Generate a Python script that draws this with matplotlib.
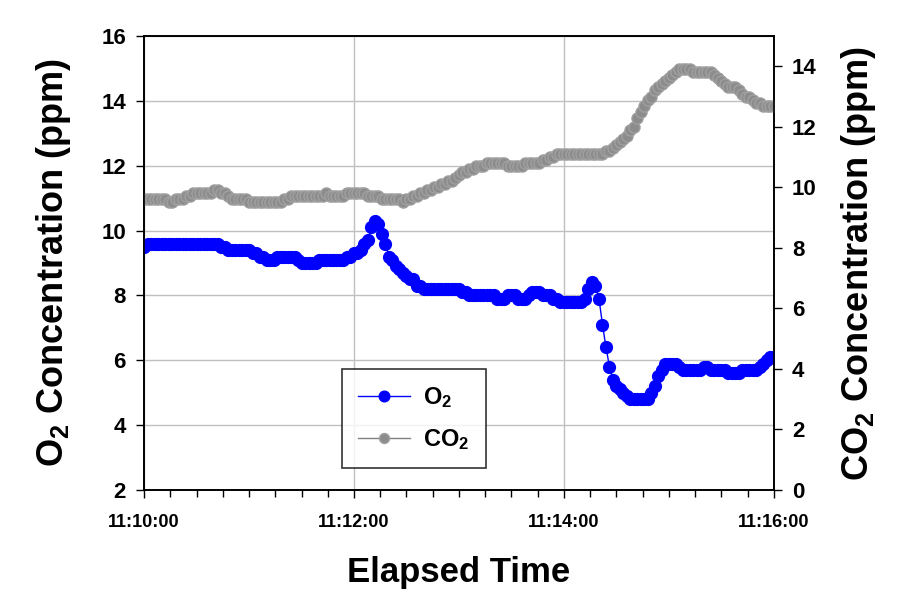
import matplotlib
matplotlib.use("Agg")
import matplotlib.pyplot as plt
import numpy as np

plt.rcParams['font.family'] = ['Liberation Sans', 'DejaVu Sans']
plt.rcParams['font.weight'] = 'bold'
plt.rcParams['mathtext.fontset'] = 'custom'
plt.rcParams['mathtext.rm'] = 'Liberation Sans:bold'
plt.rcParams['mathtext.default'] = 'rm'

# readings every 2 s starting 11:10:00
sample_interval_s = 2

o2 = [9.5, 9.6, 9.6, 9.6, 9.6, 9.6, 9.6, 9.6, 9.6, 9.6,
      9.6, 9.6, 9.6, 9.6, 9.6, 9.6, 9.6, 9.6, 9.6, 9.6,
      9.6, 9.6, 9.5, 9.5, 9.4, 9.4, 9.4, 9.4, 9.4, 9.4,
      9.4, 9.3, 9.3, 9.2, 9.2, 9.1, 9.1, 9.1, 9.2, 9.2,
      9.2, 9.2, 9.2, 9.2, 9.1, 9.0, 9.0, 9.0, 9.0, 9.0,
      9.1, 9.1, 9.1, 9.1, 9.1, 9.1, 9.1, 9.1, 9.2, 9.2,
      9.3, 9.3, 9.4, 9.6, 9.7, 10.1, 10.3, 10.2, 9.9, 9.6,
      9.2, 9.1, 8.9, 8.8, 8.7, 8.6, 8.5, 8.5, 8.3, 8.3,
      8.2, 8.2, 8.2, 8.2, 8.2, 8.2, 8.2, 8.2, 8.2, 8.2,
      8.2, 8.1, 8.1, 8.0, 8.0, 8.0, 8.0, 8.0, 8.0, 8.0,
      8.0, 7.9, 7.9, 7.9, 8.0, 8.0, 8.0, 7.9, 7.9, 7.9,
      8.0, 8.1, 8.1, 8.1, 8.0, 8.0, 8.0, 7.9, 7.9, 7.8,
      7.8, 7.8, 7.8, 7.8, 7.8, 7.8, 7.9, 8.2, 8.4, 8.3,
      7.9, 7.1, 6.4, 5.8, 5.4, 5.2, 5.1, 5.0, 4.9, 4.8,
      4.8, 4.8, 4.8, 4.8, 4.8, 5.0, 5.2, 5.5, 5.7, 5.9,
      5.9, 5.9, 5.9, 5.8, 5.7, 5.7, 5.7, 5.7, 5.7, 5.7,
      5.8, 5.8, 5.7, 5.7, 5.7, 5.7, 5.7, 5.6, 5.6, 5.6,
      5.6, 5.7, 5.7, 5.7, 5.7, 5.7, 5.8, 5.9, 6.0, 6.1,
      6.1]

co2 = [9.6, 9.6, 9.6, 9.6, 9.6, 9.6, 9.6, 9.5, 9.5, 9.6,
       9.6, 9.6, 9.7, 9.7, 9.8, 9.8, 9.8, 9.8, 9.8, 9.8,
       9.9, 9.9, 9.8, 9.8, 9.7, 9.6, 9.6, 9.6, 9.6, 9.6,
       9.5, 9.5, 9.5, 9.5, 9.5, 9.5, 9.5, 9.5, 9.5, 9.5,
       9.6, 9.6, 9.7, 9.7, 9.7, 9.7, 9.7, 9.7, 9.7, 9.7,
       9.7, 9.7, 9.8, 9.7, 9.7, 9.7, 9.7, 9.7, 9.8, 9.8,
       9.8, 9.8, 9.8, 9.8, 9.7, 9.7, 9.7, 9.7, 9.6, 9.6,
       9.6, 9.6, 9.6, 9.6, 9.5, 9.6, 9.6, 9.7, 9.7, 9.8,
       9.8, 9.9, 9.9, 10.0, 10.0, 10.1, 10.1, 10.2, 10.2, 10.3,
       10.4, 10.5, 10.5, 10.6, 10.6, 10.7, 10.7, 10.7, 10.8, 10.8,
       10.8, 10.8, 10.8, 10.8, 10.7, 10.7, 10.7, 10.7, 10.7, 10.8,
       10.8, 10.8, 10.8, 10.8, 10.9, 10.9, 11.0, 11.0, 11.1, 11.1,
       11.1, 11.1, 11.1, 11.1, 11.1, 11.1, 11.1, 11.1, 11.1, 11.1,
       11.1, 11.1, 11.2, 11.2, 11.3, 11.4, 11.5, 11.6, 11.7, 11.9,
       12.0, 12.3, 12.5, 12.7, 12.9, 13.0, 13.2, 13.3, 13.4, 13.5,
       13.6, 13.7, 13.8, 13.9, 13.9, 13.9, 13.9, 13.8, 13.8, 13.8,
       13.8, 13.8, 13.8, 13.7, 13.6, 13.5, 13.4, 13.3, 13.3, 13.3,
       13.2, 13.1, 13.0, 13.0, 12.9, 12.8, 12.8, 12.7, 12.7, 12.7,
       12.7]

x_ticks_s = [0, 120, 240, 360]
x_tick_labels = ["11:10:00", "11:12:00", "11:14:00", "11:16:00"]

t = np.arange(len(o2)) * sample_interval_s

fig = plt.figure(figsize=(9.08, 6.01), dpi=100)
ax = fig.add_axes([0.1586, 0.1847, 0.6938, 0.7554])
ax2 = ax.twinx()

ax.plot(t, o2, color='#0000ff', linewidth=1, marker='o', markersize=8.5,
        markeredgecolor='#0000ff', label='O$_2$', zorder=3)
ax2.plot(t, co2, color='#808080', linewidth=1, marker='o', markersize=8,
         markerfacecolor='#8c8c8c', markeredgecolor='#a0a0a0', label='CO$_2$')

ax.set_xlim(0, 360)
ax.set_ylim(2, 16)
ax2.set_ylim(0, 15)
ax.set_yticks(np.arange(2, 17, 2))
ax2.set_yticks(np.arange(0, 15, 2))
ax.set_xticks(x_ticks_s)
ax.set_xticklabels(x_tick_labels)
ax.set_xticks(np.arange(0, 361, 15), minor=True)

ax.grid(True, which='major', color='#c0c0c0', linewidth=1)
ax.set_axisbelow(True)

ax.tick_params(axis='y', labelsize=16, length=6, width=1, pad=7, direction='out')
ax.tick_params(axis='x', which='major', labelsize=13, length=6, width=1, pad=11, direction='out')
ax.tick_params(axis='x', which='minor', length=5, width=1, direction='out')
ax2.tick_params(axis='y', labelsize=16, length=6, width=1, pad=7, direction='out')

for sp in list(ax.spines.values()) + list(ax2.spines.values()):
    sp.set_linewidth(1.2)
    sp.set_color('black')

ax.set_xlabel('Elapsed Time', fontsize=25, fontweight='bold', labelpad=18)
ax.set_ylabel('O$_2$ Concentration (ppm)', fontsize=26, fontweight='bold', labelpad=20)
ax2.set_ylabel('CO$_2$ Concentration (ppm)', fontsize=26, fontweight='bold', labelpad=16)

h1, l1 = ax.get_legend_handles_labels()
h2, l2 = ax2.get_legend_handles_labels()
leg = ax2.legend(h1 + h2, l1 + l2, loc='lower left', bbox_to_anchor=(0.314, 0.048),
                 borderaxespad=0, fontsize=17, frameon=True, fancybox=False,
                 edgecolor='black', borderpad=0.7, handlelength=2.2,
                 handletextpad=0.55, labelspacing=0.7, markerscale=0.9)
leg.get_frame().set_linewidth(1.2)

fig.savefig('out.png', dpi=100)
